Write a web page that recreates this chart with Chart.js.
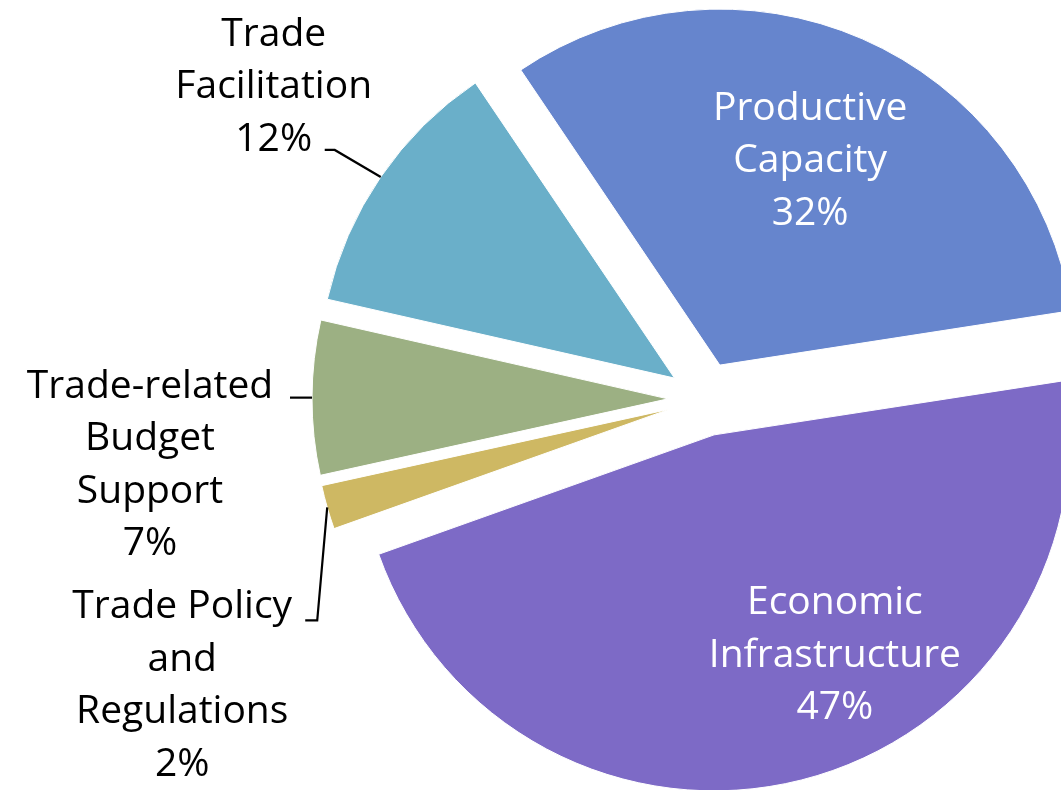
<!DOCTYPE html>
<html>
<head>
<meta charset="utf-8">
<script src="https://cdn.jsdelivr.net/npm/chart.js@4.4.1/dist/chart.umd.min.js"></script>
<style>
    html, body { margin: 0; padding: 0; background: #fff; overflow: hidden; }
    #wrap { width: 1061px; height: 790px; }
</style>
</head>
<body>
<div id="wrap"><canvas id="pieChart" width="1061" height="790"></canvas></div>
<script>
// data, in drawing order (clockwise from the top)
const categories = [
    ['Productive', 'Capacity'],
    ['Economic', 'Infrastructure'],
    ['Trade Policy', 'and', 'Regulations'],
    ['Trade-related', 'Budget', 'Support'],
    ['Trade', 'Facilitation']
];
const shares = [32, 47, 2, 7, 12];
const sliceColors = ['#6685CD', '#7D6AC6', '#CEB863', '#9CB083', '#6AAFC9'];

// label placement: inside labels sit on a polar point from the slice centre,
// outside labels hang off the point where the mid-angle meets the rim
const labelLayout = [
    { inside: true, r: 0.634, turn: 0, color: '#fff' },
    { inside: true, r: 0.70, turn: -14.8, color: '#fff' },
    { inside: false, tx: -145, ty: 111, leader: [[0, 0], [-10, 113], [-22, 113]] },
    { inside: false, tx: -162, ty: 0, leader: [[0, 0], [-22, 0]] },
    { inside: false, tx: -107, ty: -131, leader: [[0, 0], [-46, -27], [-56, -27]] }
];

const EXPLODE = 37;
const LINE_H = 52.5;
const FONT = '39px "Open Sans", Lato, sans-serif';

// push every slice out along its own mid-angle
const explodePlugin = {
    id: 'explode',
    afterDatasetUpdate(chart, args) {
        args.meta.data.forEach(arc => {
            const mid = (arc.startAngle + arc.endAngle) / 2;
            arc.x += Math.cos(mid) * EXPLODE;
            arc.y += Math.sin(mid) * EXPLODE;
        });
    }
};

const labelPlugin = {
    id: 'sliceLabels',
    afterDraw(chart) {
        const ctx = chart.ctx;
        const arcs = chart.getDatasetMeta(0).data;
        const total = shares.reduce((a, b) => a + b, 0);
        ctx.save();
        ctx.font = FONT;
        ctx.textAlign = 'center';
        ctx.textBaseline = 'alphabetic';
        arcs.forEach((arc, i) => {
            const lay = labelLayout[i];
            const lines = categories[i].concat([Math.round(shares[i] / total * 100) + '%']);
            const mid = (arc.startAngle + arc.endAngle) / 2;
            let x, y;
            if (lay.inside) {
                const a = mid + lay.turn * Math.PI / 180;
                const cx = arc.x + Math.cos(a) * arc.outerRadius * lay.r;
                const cy = arc.y + Math.sin(a) * arc.outerRadius * lay.r;
                x = cx;
                y = cy + 14 - (lines.length - 1) / 2 * LINE_H;
            } else {
                const px = arc.x + Math.cos(mid) * arc.outerRadius;
                const py = arc.y + Math.sin(mid) * arc.outerRadius;
                ctx.strokeStyle = '#000';
                ctx.lineWidth = 2.2;
                ctx.beginPath();
                lay.leader.forEach((p, k) => {
                    if (k === 0) ctx.moveTo(px + p[0], py + p[1]);
                    else ctx.lineTo(px + p[0], py + p[1]);
                });
                ctx.stroke();
                x = px + lay.tx;
                y = py + lay.ty;
            }
            ctx.fillStyle = lay.color || '#000';
            lines.forEach((t, k) => ctx.fillText(t, x, y + k * LINE_H));
        });
        ctx.restore();
    }
};

const ctx = document.getElementById('pieChart');
new Chart(ctx, {
    type: 'pie',
    data: {
        labels: categories,
        datasets: [{
            data: shares,
            backgroundColor: sliceColors,
            borderColor: '#fff',
            borderWidth: 1,
            clip: false
        }]
    },
    options: {
        responsive: false,
        animation: false,
        rotation: -34,
        radius: 356,
        layout: { padding: { left: 349, top: 8, right: 0, bottom: 0 } },
        plugins: {
            legend: { display: false },
            tooltip: { enabled: false }
        }
    },
    plugins: [explodePlugin, labelPlugin]
});
</script>
</body>
</html>
